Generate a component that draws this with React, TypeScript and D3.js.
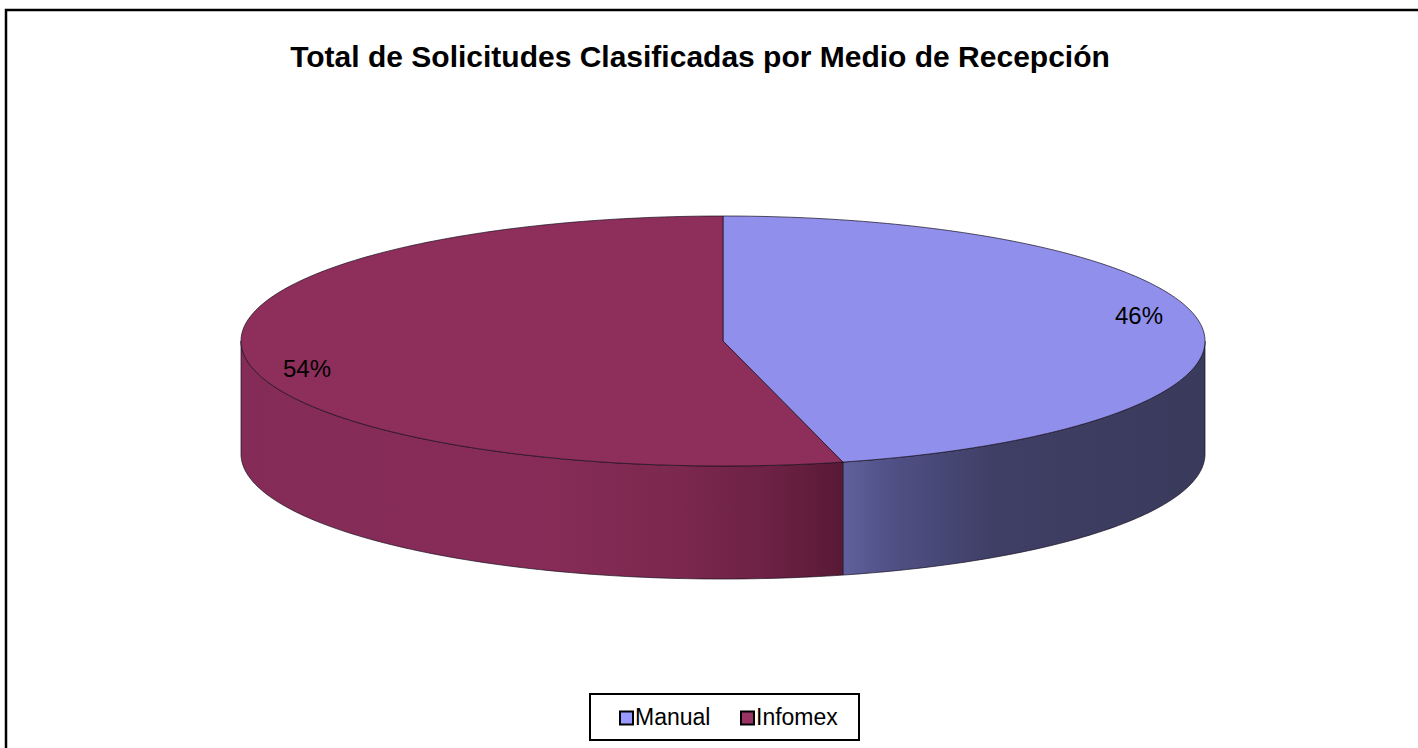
import React from "react";
import * as d3 from "d3";

const categories = ["Manual", "Infomex"];
const values = [46, 54];
const labels = ["46%", "54%"];
const topColors = ["#9090ec", "#8e2e5b"];
const legendColors = ["#9999ff", "#993366"];
const titleText = "Total de Solicitudes Clasificadas por Medio de Recepción";

const W = 1418;
const H = 748;
const cx = 723;
const cy = 341;
const rx = 482;
const ry = 125;
const depth = 113;

function pt(a: number, dy = 0): [number, number] {
  return [cx + rx * Math.sin(a), cy - ry * Math.cos(a) + dy];
}

function arcPoints(a0: number, a1: number, dy = 0): [number, number][] {
  const n = Math.max(4, Math.ceil(((a1 - a0) / (2 * Math.PI)) * 360));
  const pts: [number, number][] = [];
  for (let i = 0; i <= n; i++) {
    pts.push(pt(a0 + ((a1 - a0) * i) / n, dy));
  }
  return pts;
}

export default function App() {
  const pie = d3.pie<number>().sort(null).value((d) => d);
  const arcs = pie(values);
  const line = d3.line();

  const sides = arcs.map((a, i) => {
    const s = Math.max(a.startAngle, Math.PI / 2);
    const e = Math.min(a.endAngle, (3 * Math.PI) / 2);
    if (e <= s) return null;
    const top = arcPoints(s, e, 0);
    const bot = arcPoints(s, e, depth).reverse();
    return { i, d: line([...top, ...bot])! + "Z" };
  });

  const tops = arcs.map((a, i) => {
    const pts = arcPoints(a.startAngle, a.endAngle, 0);
    return { i, d: line([[cx, cy], ...pts])! + "Z" };
  });

  const labelPos = arcs.map((a) => {
    const m = (a.startAngle + a.endAngle) / 2;
    return [cx + rx * 0.87 * Math.sin(m), cy + 1 - ry * 1.72 * Math.cos(m)];
  });

  const xg = d3.scaleLinear().domain([0, 1]).range([cx - rx, cx + rx]);

  const font = "'Liberation Sans', Arial, sans-serif";

  return (
    <svg
      width={W}
      height={H}
      style={{ position: "absolute", left: 0, top: 0, background: "#fff" }}
    >
      <defs>
        <linearGradient id="g0" gradientUnits="userSpaceOnUse" x1={xg(0)} x2={xg(1)} y1={0} y2={0}>
          <stop offset="0.62" stopColor="#61619e" />
          <stop offset="0.68" stopColor="#4f4f84" />
          <stop offset="0.78" stopColor="#3f3f66" />
          <stop offset="1" stopColor="#3a3a5c" />
        </linearGradient>
        <linearGradient id="g1" gradientUnits="userSpaceOnUse" x1={xg(0)} x2={xg(1)} y1={0} y2={0}>
          <stop offset="0" stopColor="#852b57" />
          <stop offset="0.3" stopColor="#872c58" />
          <stop offset="0.45" stopColor="#7c284f" />
          <stop offset="0.55" stopColor="#6c2144" />
          <stop offset="0.62" stopColor="#5a1a36" />
        </linearGradient>
      </defs>
      <rect x={6} y={10} width={W} height={H} fill="#fff" stroke="#000" strokeWidth={2.5} />
      <text
        x={700}
        y={67}
        textAnchor="middle"
        fontFamily={font}
        fontWeight="bold"
        fontSize={30}
        fill="#000"
      >
        {titleText}
      </text>
      {sides.map((s) =>
        s ? (
          <path
            key={"s" + s.i}
            d={s.d}
            fill={`url(#g${s.i})`}
            stroke="#1a1020"
            strokeOpacity={0.7}
            strokeWidth={1}
          />
        ) : null
      )}
      {tops.map((t) => (
        <path
          key={"t" + t.i}
          d={t.d}
          fill={topColors[t.i]}
          stroke="#1a1020"
          strokeOpacity={0.7}
          strokeWidth={1}
        />
      ))}
      {labels.map((l, i) => (
        <text
          key={"l" + i}
          x={labelPos[i][0]}
          y={labelPos[i][1]}
          textAnchor="middle"
          dominantBaseline="central"
          fontFamily={font}
          fontSize={24}
          fill="#000"
        >
          {l}
        </text>
      ))}
      <rect x={590} y={694} width={269} height={46} fill="#fff" stroke="#000" strokeWidth={2} />
      {categories.map((c, i) => {
        const x0 = i === 0 ? 620 : 741;
        return (
          <g key={"lg" + i}>
            <rect x={x0} y={711.5} width={13} height={13} fill={legendColors[i]} stroke="#000" strokeWidth={2} />
            <text x={x0 + 15} y={725} fontFamily={font} fontSize={23} fill="#000">
              {c}
            </text>
          </g>
        );
      })}
    </svg>
  );
}
